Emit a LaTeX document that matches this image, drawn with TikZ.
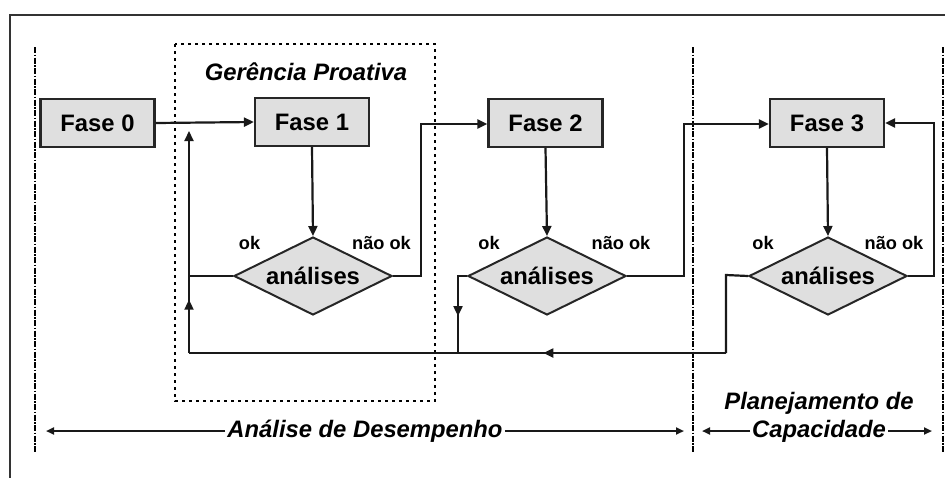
\documentclass[tikz,border=0pt]{standalone}
\usepackage{fontspec}
\setmainfont{Liberation Sans}
\usetikzlibrary{shapes.geometric,arrows.meta,decorations.markings}
\tikzset{
  fasebox/.style={draw=black!85, line width=2.2pt, fill=gray!25, minimum width=114pt, minimum height=48pt, inner sep=0pt, font=\fontsize{23.8}{26}\selectfont\bfseries},
  decbox/.style={diamond, draw=black!85, line width=2pt, fill=gray!25, minimum width=158pt, minimum height=78pt, inner sep=0pt, shape aspect=2, font=\fontsize{23.8}{26}\selectfont\bfseries},
  lbl/.style={inner sep=0pt, font=\fontsize{18.2}{20}\selectfont\bfseries},
  title/.style={inner sep=0pt, align=center, font=\fontsize{23.8}{28}\selectfont\bfseries\itshape},
  conn/.style={line width=2.2pt, black!90},
  tip/.style={-{Triangle[length=10pt,width=9pt]}},
  smalltip/.style={-{Triangle[length=8pt,width=7pt]}},
  midarr/.style={postaction={decorate}, decoration={markings, mark=at position #1 with {\arrow{Triangle[length=10pt,width=9pt]}}}},
  sep/.style={line width=2.4pt, dash pattern=on 6pt off 1.5pt on 1.5pt off 1.5pt},
}
\begin{document}
\begin{tikzpicture}[x=1pt,y=-1pt]
\useasboundingbox (0,0) rectangle (945,477);
% outer frame (cropped)
\draw[line width=2.4pt, black!80] (10,480) -- (10,15) -- (948,15);
% separators
\draw[sep] (35,47) -- (35,453);
\draw[sep] (693,47) -- (693,453);
\draw[sep] (943,47) -- (943,453);
% dotted proactive region
\draw[line width=2.6pt, dash pattern=on 2.6pt off 4.4pt] (175,44) rectangle (435,401);
\node[title] (gp) at (306,72) {Gerência Proativa};
% phases
\node[fasebox] (f0) at (97.5,123) {Fase 0};
\node[fasebox] (f1) at (312,122) {Fase 1};
\node[fasebox] (f2) at (545.5,123) {Fase 2};
\node[fasebox] (f3) at (827,123) {Fase 3};
% decisions
\node[decbox] (d1) at (313,276) {análises};
\node[decbox] (d2) at (547,276) {análises};
\node[decbox] (d3) at (828,276) {análises};
% labels
\node[lbl] (ok1) at (249.5,243) {ok};
\node[lbl] (nok1) at (381.5,243) {não ok};
\node[lbl] (ok2) at (489,243) {ok};
\node[lbl] (nok2) at (621,243) {não ok};
\node[lbl] (ok3) at (763,243) {ok};
\node[lbl] (nok3) at (894,243) {não ok};
% coordinates
\coordinate (b3) at (726,353);
\coordinate (bl) at (189,353);
\coordinate (fb) at (189,131);
% connectors
\draw[conn, tip] (f0.east) -- (f1.west);
\draw[conn, tip] (f1.south) -- (d1.north);
\draw[conn, tip] (f2.south) -- (d2.north);
\draw[conn, tip] (f3.south) -- (d3.north);
\draw[conn, tip] (d1.east) -- (421,276) -- (421,124) -- (f2.west |- 0,124);
\draw[conn, tip] (d2.east) -- (684,276) -- (684,124) -- (f3.west |- 0,124);
\draw[conn, tip] (d3.east) -- (934,276) -- (934,123) -- (f3.east);
\draw[conn] (d3.west) -- (726,275) -- (b3);
\draw[conn, midarr=0.34] (b3) -- (bl);
\draw[conn, tip, midarr=0.24] (bl) -- (fb);
\draw[conn] (d1.west) -- (189,276);
\draw[conn] (d2.west) -- (458,276) -- (458,353);
\draw[conn, midarr=0.52] (458,276) -- (458,353);
% bottom titles
\node[title] (ad) at (365,431) {Análise de Desempenho};
\node[title] (pc1) at (819,403) {Planejamento de};
\node[title] (pc2) at (819,431) {Capacidade};
\coordinate (adl) at (46,431);
\coordinate (adr) at (684,431);
\coordinate (pcl) at (702,431);
\coordinate (pcr) at (932,431);
\draw[conn, smalltip] (ad.west) ++(-2,0) -- (adl);
\draw[conn, smalltip] (ad.east) ++(2,0) -- (adr);
\draw[conn, smalltip] (pc2.west) ++(-2,0) -- (pcl);
\draw[conn, smalltip] (pc2.east) ++(2,0) -- (pcr);
\end{tikzpicture}
\end{document}
